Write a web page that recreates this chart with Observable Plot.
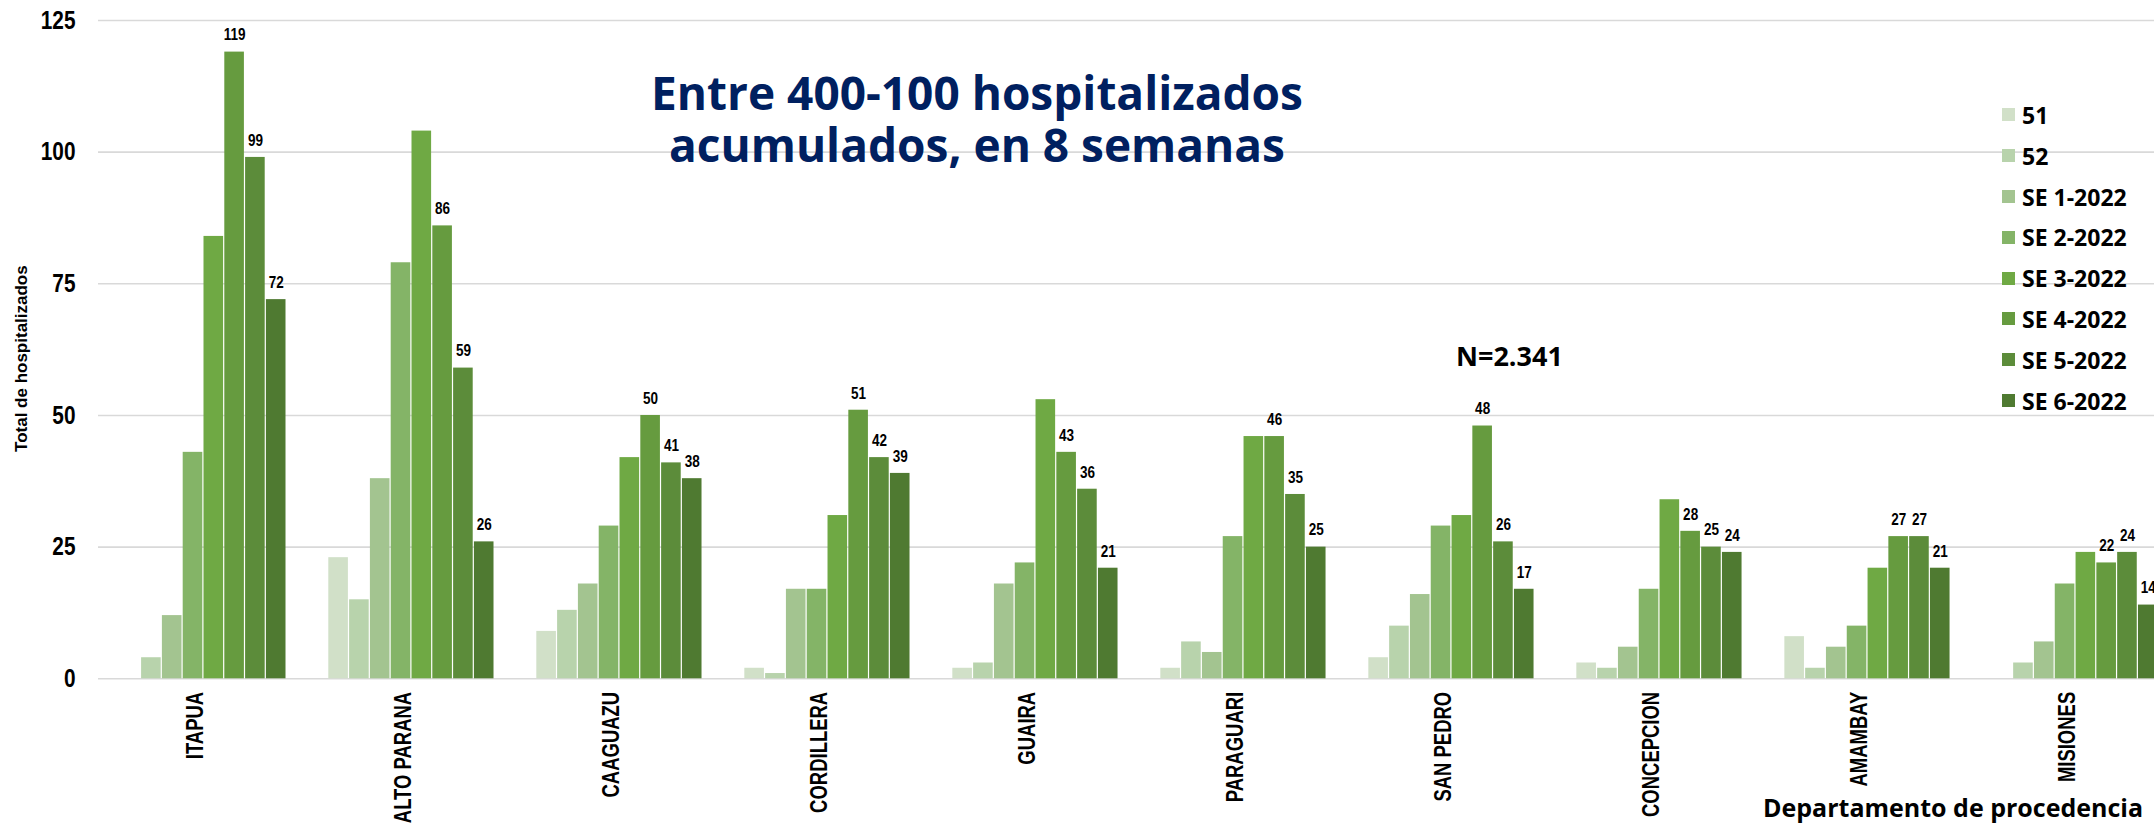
<!DOCTYPE html>
<html>
<head>
<meta charset="utf-8">
<script src="https://cdn.jsdelivr.net/npm/d3@7"></script>
<script src="https://cdn.jsdelivr.net/npm/@observablehq/plot@0.6"></script>
<style>
  html, body { margin: 0; padding: 0; background: #fff; overflow: hidden; }
  #wrap { position: relative; width: 2154px; height: 824px; }
  .ov { position: absolute; font-family: "Open Sans", sans-serif; font-weight: 700; white-space: nowrap; color: #000; }
  .anot { left: 977px; transform: translateX(-50%); text-align: center; font-size: 46px; line-height: 1; color: #002060; }
  #anot1 { top: 69px; }
  #anot2 { top: 121px; }
  #ntot { left: 1456px; top: 342px; font-size: 27px; line-height: 1; }
  #xtit { left: 1763px; top: 795px; font-size: 25px; line-height: 1; }
  #leg { left: 2002px; top: 94.6px; }
  .lrow { display: flex; align-items: center; height: 40.8px; font-size: 23px; }
  .sw { width: 13px; height: 13px; margin-right: 7px; flex: none; }
</style>
</head>
<body>
<div id="wrap"></div>
<script>
// ---- data ----
const departamentos = ["ITAPUA", "ALTO PARANA", "CAAGUAZU", "CORDILLERA", "GUAIRA", "PARAGUARI", "SAN PEDRO", "CONCEPCION", "AMAMBAY", "MISIONES"];
const semanas = ["51", "52", "SE 1-2022", "SE 2-2022", "SE 3-2022", "SE 4-2022", "SE 5-2022", "SE 6-2022"];
const colores = ["#d1e0c8", "#b8d3ac", "#a3c490", "#84b467", "#6fa944", "#669b3f", "#5c8c3a", "#4f7a31"];
const se51 = [0, 23, 9, 2, 2, 2, 4, 3, 8, 0];
const se52 = [4, 15, 13, 1, 3, 7, 10, 2, 2, 3];
const se1 = [12, 38, 18, 17, 18, 5, 16, 6, 6, 7];
const se2 = [43, 79, 29, 17, 22, 27, 29, 17, 10, 18];
const se3 = [84, 104, 42, 31, 53, 46, 31, 34, 21, 24];
const se4 = [119, 86, 50, 51, 43, 46, 48, 28, 27, 22];
const se5 = [99, 59, 41, 42, 36, 35, 26, 25, 27, 24];
const se6 = [72, 26, 38, 39, 21, 25, 17, 24, 21, 14];
const semanasConEtiqueta = ["SE 4-2022", "SE 5-2022", "SE 6-2022"];
const yTicks = [0, 25, 50, 75, 100, 125];
const anotacion = ["Entre 400-100 hospitalizados", "acumulados, en 8 semanas"];
const nTotal = "N=2.341";
const tituloX = "Departamento de procedencia";
const tituloY = "Total de hospitalizados";

// ---- build table ----
const valores = [se51, se52, se1, se2, se3, se4, se5, se6];
const SLOTS = 10; // 8 bars + 2 empty slots between departments
const filas = [];
departamentos.forEach((dep, g) => {
  semanas.forEach((sem, k) => {
    filas.push({dep, semana: sem, valor: valores[k][g], a: g * SLOTS + k, b: g * SLOTS + k + 1});
  });
});

const font = "'Liberation Sans', Arial, sans-serif";

const chart = Plot.plot({
  width: 2154,
  height: 824,
  marginLeft: 98,
  marginRight: 0,
  marginTop: 20,
  marginBottom: 145.7,
  x: {domain: [-1.043, 97.8], axis: null},
  y: {domain: [0, 125], axis: null, label: null},
  color: {domain: semanas, range: colores},
  style: {background: "white", fontFamily: font, overflow: "hidden"},
  marks: [
    Plot.gridY({ticks: yTicks, stroke: "#d9d9d9", strokeOpacity: 1, strokeWidth: 1.6}),
    Plot.rect(filas, {x1: "a", x2: "b", y1: 0, y2: "valor", fill: "semana", insetLeft: 0.6, insetRight: 0.6}),
    Plot.axisY({ticks: yTicks, tickSize: 0, tickPadding: 23, fontSize: 26, fontWeight: "bold", fill: "#000", label: null}),
    Plot.text(departamentos, {x: (d, i) => i * SLOTS + 4, frameAnchor: "bottom", rotate: -90, textAnchor: "end", dy: 13, fontSize: 24, fontWeight: "bold", fill: "#000"}),
    Plot.text(filas.filter(f => semanasConEtiqueta.includes(f.semana)), {x: f => f.a + 0.5, y: "valor", text: f => String(f.valor), dy: -17, fontSize: 16.5, fontWeight: "bold", fill: "#000"}),
    Plot.text([tituloY], {frameAnchor: "left", rotate: -90, textAnchor: "middle", lineAnchor: "middle", dx: -77, dy: 9, fontSize: 17, fontWeight: "bold", fill: "#000"})
  ]
});

// narrow (Arial Narrow-like) rendering: compress glyphs along the text direction
function condense(elements, sx) {
  elements.forEach(el => {
    const t = el.getAttribute("transform") || "";
    el.setAttribute("transform", (t + ` scale(${sx},1)`).trim());
  });
}
condense(chart.querySelectorAll('g[aria-label="y-axis tick label"] text'), 0.8);
const textGroups = chart.querySelectorAll('g[aria-label="text"]');
if (textGroups[0]) condense(textGroups[0].querySelectorAll("text"), 0.77);
if (textGroups[1]) condense(textGroups[1].querySelectorAll("text"), 0.82);

const wrap = document.getElementById("wrap");
wrap.appendChild(chart);

anotacion.forEach((line, i) => {
  const a = document.createElement("div");
  a.className = "ov anot"; a.id = "anot" + (i + 1);
  a.textContent = line;
  wrap.appendChild(a);
});

const nt = document.createElement("div");
nt.className = "ov"; nt.id = "ntot"; nt.textContent = nTotal;
wrap.appendChild(nt);

const xt = document.createElement("div");
xt.className = "ov"; xt.id = "xtit"; xt.textContent = tituloX;
wrap.appendChild(xt);

const leg = document.createElement("div");
leg.className = "ov"; leg.id = "leg";
semanas.forEach((s, i) => {
  const row = document.createElement("div");
  row.className = "lrow";
  const sw = document.createElement("span");
  sw.className = "sw"; sw.style.background = colores[i];
  const tx = document.createElement("span");
  tx.textContent = s;
  row.appendChild(sw); row.appendChild(tx);
  leg.appendChild(row);
});
wrap.appendChild(leg);
</script>
</body>
</html>
